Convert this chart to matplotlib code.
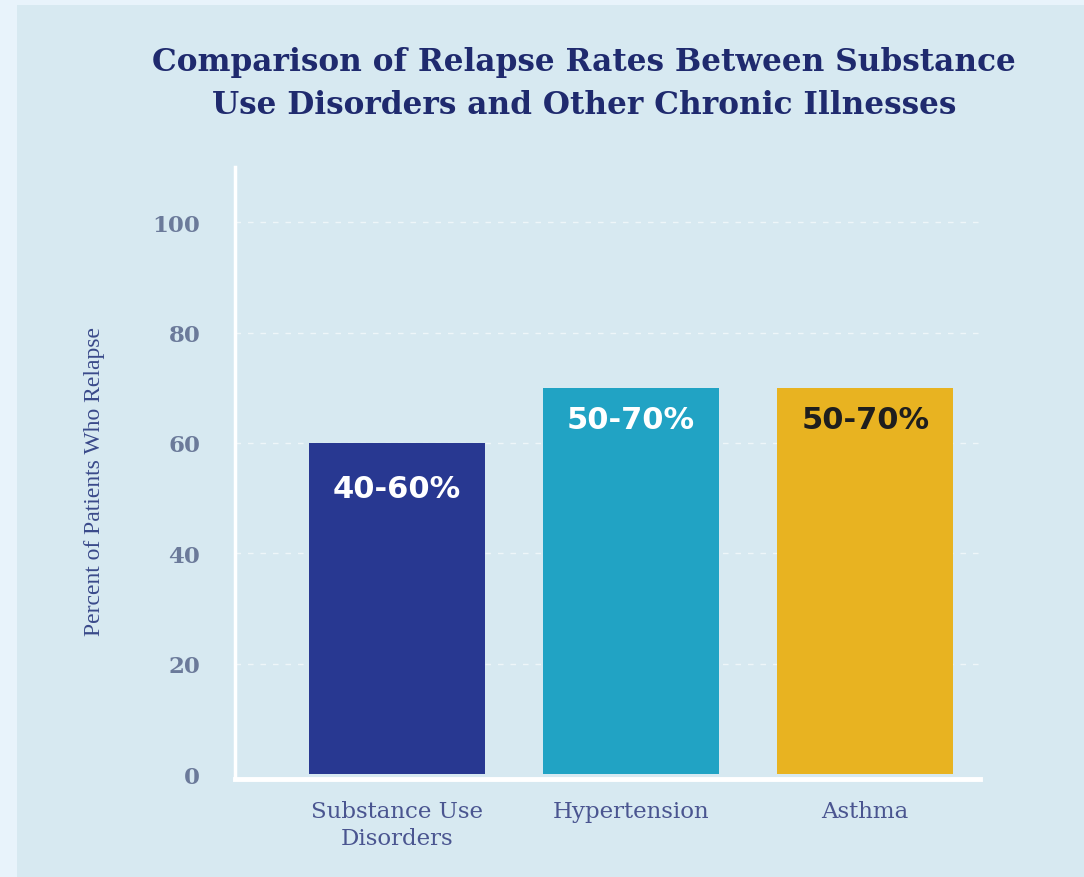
import matplotlib
matplotlib.use("Agg")
from matplotlib import pyplot as plt
from matplotlib.patches import Rectangle

# chart data
categories = ["Substance Use\nDisorders", "Hypertension", "Asthma"]
upper_rates = [60, 70, 70]
range_labels = ["40-60%", "50-70%", "50-70%"]
y_ticks = [0, 20, 40, 60, 80, 100]

# styling
bar_colors = ["#283891", "#21a3c4", "#e8b321"]
label_colors = ["white", "white", "#1e1e1e"]
label_offsets = [-46, -32]  # px below the bar top
label_offsets.append(label_offsets[-1])
panel_color = "#d7e9f1"
outer_color = "#e8f3fb"
navy = "#1f2a6e"
tick_color = "#6b7a9a"

fig = plt.figure(figsize=(10.84, 8.78), dpi=100)
fig.patch.set_facecolor(outer_color)
fig.patches.append(Rectangle((17 / 1084, 0), 1, 1 - 6 / 878, transform=fig.transFigure,
                             facecolor=panel_color, edgecolor="none", zorder=-5))

ax = fig.add_axes([235 / 1084, 1 - 780 / 878, 745 / 1084, 612 / 878])
ax.set_facecolor("none")

x = range(len(categories))
bars = ax.bar(x, upper_rates, width=0.75, color=bar_colors, zorder=3)

for bar, txt, col, off in zip(bars, range_labels, label_colors, label_offsets):
    ax.annotate(txt, (bar.get_x() + bar.get_width() / 2, bar.get_height()),
                xytext=(0, off * 0.72), textcoords="offset points",
                ha="center", va="center", color=col, fontsize=22,
                fontweight="bold", family="DejaVu Sans", zorder=4)

ax.set_xlim(-0.69, 2.49)
ax.set_ylim(-0.9, 110)
ax.set_yticks(y_ticks)
ax.set_yticklabels([str(t) for t in y_ticks], color=tick_color, fontsize=16.5,
                   family="DejaVu Serif", fontweight="bold")
ax.set_xticks(list(x))
ax.set_xticklabels(categories, color="#4a5590", fontsize=16.5, family="DejaVu Serif",
                   linespacing=1.3)
ax.tick_params(axis="y", length=0, pad=25)
ax.tick_params(axis="x", length=0, pad=15)

for t in y_ticks[1:]:
    ax.axhline(t, color="white", lw=1, ls=(0, (4, 5)), alpha=0.6, zorder=1)

for s in ["top", "right"]:
    ax.spines[s].set_visible(False)
ax.spines["left"].set_color("white")
ax.spines["left"].set_linewidth(2.5)
ax.spines["bottom"].set_color("white")
ax.spines["bottom"].set_linewidth(3.5)

fig.text(95 / 1084, 1 - 482 / 878, "Percent of Patients Who Relapse", rotation=90,
         ha="center", va="center", color="#3a4a8a", fontsize=17,
         family="Liberation Serif")

fig.text(584 / 1084, 1 - 84 / 878,
         "Comparison of Relapse Rates Between Substance\nUse Disorders and Other Chronic Illnesses",
         ha="center", va="center", color=navy, fontsize=22.4, fontweight="bold",
         family="DejaVu Serif", linespacing=1.5)

fig.savefig("out.png", dpi=100, facecolor=fig.get_facecolor())
